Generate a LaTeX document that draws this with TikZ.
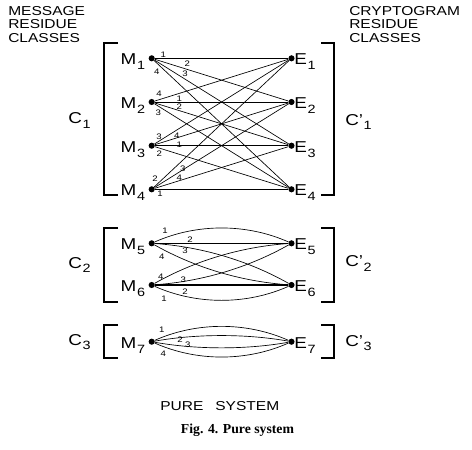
\documentclass[tikz,border=0pt]{standalone}
\usepackage{fontspec}
\setmainfont{Liberation Sans}[FakeStretch=1.2]
\newfontfamily\capserif{Liberation Serif}
\tikzset{
  dot/.style={circle,fill=black,inner sep=0pt,minimum size=4.6pt},
  link/.style={line width=0.5pt},
  mainlink/.style={line width=0.9pt},
  brk/.style={line width=0.8pt},
  keylab/.style={font=\fontsize{6}{6}\selectfont,inner sep=0pt},
  vlab/.style={font=\fontsize{11.8}{12}\selectfont,inner sep=0pt},
  hdr/.style={font=\fontsize{9.7}{10}\selectfont,inner sep=0pt,anchor=base west},
  figcap/.style={font=\capserif\bfseries\fontsize{10.3}{12}\selectfont,
    inner sep=0pt,anchor=base}
}
\newcommand\sublab[2]{#1\kern0.6pt\raisebox{-3.6pt}{\fontsize{9}{9}\selectfont #2}}
\newcommand\primlab[2]{#1'\kern0.4pt\raisebox{-3.6pt}{\fontsize{9}{9}\selectfont #2}}

\begin{document}
\begin{tikzpicture}[x=0.75pt,y=-0.75pt]
  \useasboundingbox (0,0) rectangle (472,450);
  % column headings
  \foreach \w [count=\k] in {MESSAGE,RESIDUE,CLASSES}
    \node[hdr] (hm\k) at (8,{15+13.9*(\k-1)}) {\w};
  \foreach \w [count=\k] in {CRYPTOGRAM,RESIDUE,CLASSES}
    \node[hdr] (hc\k) at (349,{15+13.9*(\k-1)}) {\w};
  % residues M and E
  \foreach \k/\y in {1/58.3,2/102,3/145.7,4/189.3,5/243.3,6/285,7/341.7}{
    \node[dot] (m\k) at (151.7,\y) {};
    \node[dot] (e\k) at (291.5,\y) {};
    \node[vlab,anchor=base east] (ml\k) at (145.5,\y+6.5) {\sublab{M}{\k}};
    \node[vlab,anchor=base west] (el\k) at (294,\y+6.5) {\sublab{E}{\k}};
  }
  % class brackets
  \foreach \t/\b in {43/195,228/302,325/358}{
    \draw[brk] (118,\t) -- (104,\t) -- (104,\b) -- (118,\b);
    \draw[brk] (321,\t) -- (334,\t) -- (334,\b) -- (321,\b);
  }
  \node[vlab,anchor=base west] (c1) at (68,123.3) {\sublab{C}{1}};
  \node[vlab,anchor=base west] (c2) at (68,268) {\sublab{C}{2}};
  \node[vlab,anchor=base west] (c3) at (68,345) {\sublab{C}{3}};
  \node[vlab,anchor=base west] (d1) at (345,125) {\primlab{C}{1}};
  \node[vlab,anchor=base west] (d2) at (345,266.7) {\primlab{C}{2}};
  \node[vlab,anchor=base west] (d3) at (345,346) {\primlab{C}{3}};
  % class C1: every M to every E
  \foreach \i in {1,...,4}
    \foreach \j in {1,...,4}
      \draw[link] (m\i) -- (e\j);
  % class C2
  \draw[link] (m5) .. controls +(45,-20) and +(-45,-20) .. (e5);
  \draw[mainlink] (m5) -- (e5);
  \draw[link] (m5) .. controls +(49.9,3.5) and +(-43.5,-24.5) .. (e6);
  \draw[link] (m5) .. controls +(43.5,24.5) and +(-49.9,-3.5) .. (e6);
  \draw[link] (m6) .. controls +(43.5,-24.5) and +(-49.9,3.5) .. (e5);
  \draw[link] (m6) .. controls +(49.9,-3.5) and +(-43.5,24.5) .. (e5);
  \draw[mainlink] (m6) -- (e6);
  \draw[link] (m6) .. controls +(45,20) and +(-45,20) .. (e6);
  % class C3
  \foreach \h in {-20,-8,8,20}
    \draw[link] (m7) .. controls +(45,\h) and +(-45,\h) .. (e7);
  % key numbers
  \foreach \x/\y/\t [count=\n] in {
      163.3/55/1, 187.3/63.3/2, 185/73.3/3, 156.7/71.7/4,
      159/94/4, 179.3/98.3/1, 179.3/106.7/2, 158.3/112.7/3,
      159/136.7/3, 176.7/136/4, 179.3/144.3/1, 159.3/153.3/2,
      155/178.3/2, 182.7/168.3/3, 179.3/177.3/4, 160/194/1,
      165/231/1, 190/240/2, 185/251/3, 161.7/256.7/4,
      160.7/276.7/4, 183.3/280/3, 185/291.7/2, 164/299/1,
      161.7/330/1, 180/340/2, 187.7/345/3, 163.3/353.3/4}
    \node[keylab] (k\n) at (\x,\y) {\t};
  % titles
  \node[hdr] (title) at (160,410) {PURE\hspace{9pt}SYSTEM};
  \node[figcap] (cap) at (237.5,433) {Fig. 4. Pure system};
\end{tikzpicture}
\end{document}
